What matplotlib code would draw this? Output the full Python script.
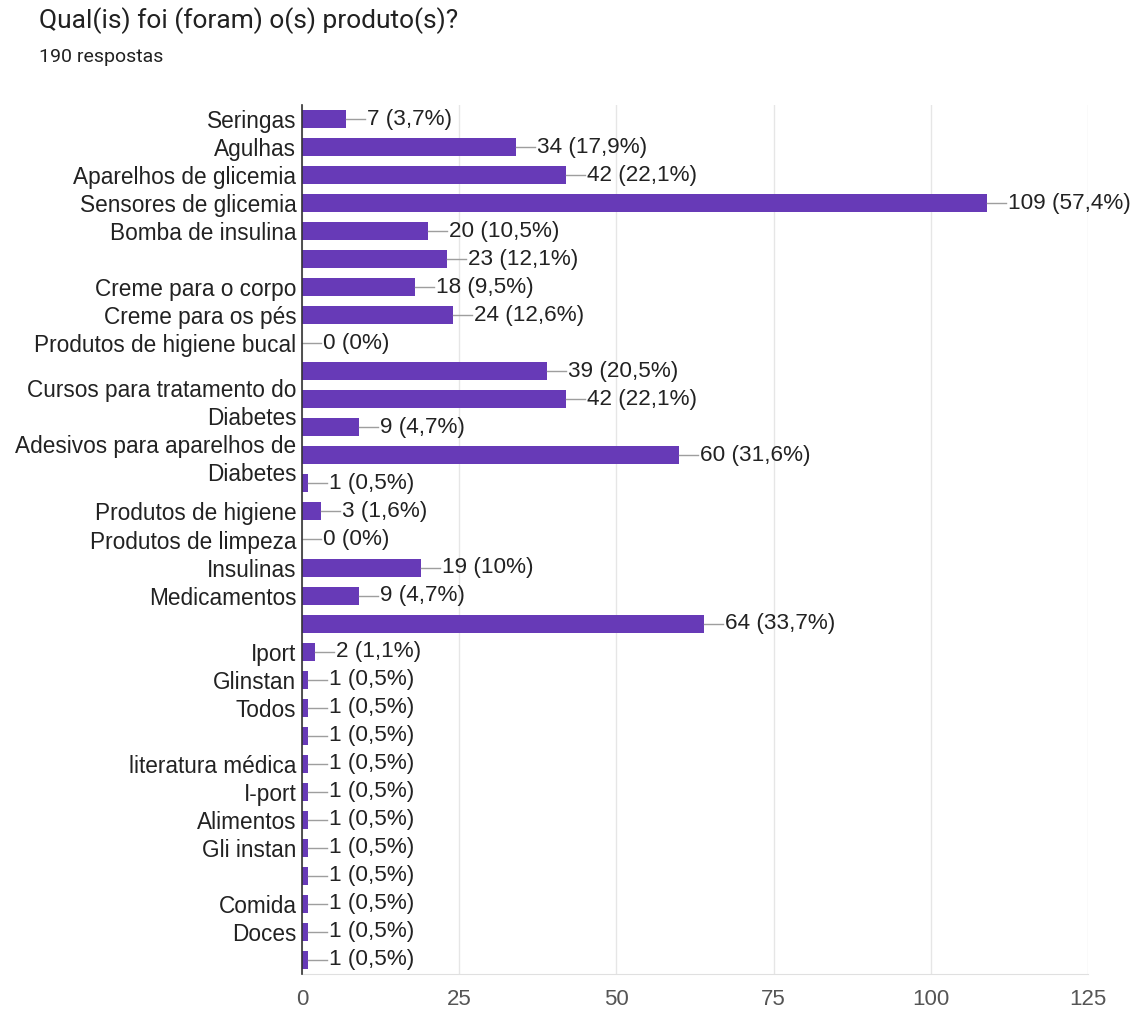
import matplotlib
matplotlib.use("Agg")
import matplotlib.pyplot as plt
from matplotlib.ticker import FixedLocator

plt.rcParams['font.family'] = ['Liberation Sans', 'DejaVu Sans']

title = "Qual(is) foi (foram) o(s) produto(s)?"
subtitle = "190 respostas"

categories = [
    "Seringas", "Agulhas", "Aparelhos de glicemia", "Sensores de glicemia",
    "Bomba de insulina", "", "Creme para o corpo", "Creme para os pés",
    "Produtos de higiene bucal", "", "Cursos para tratamento do\nDiabetes", "",
    "Adesivos para aparelhos de\nDiabetes", "", "Produtos de higiene",
    "Produtos de limpeza", "Insulinas", "Medicamentos", "", "Iport",
    "Glinstan", "Todos", "", "literatura médica", "I-port", "Alimentos",
    "Gli instan", "", "Comida", "Doces", "",
]
counts = [7, 34, 42, 109, 20, 23, 18, 24, 0, 39, 42, 9, 60, 1, 3, 0, 19, 9,
          64, 2, 1, 1, 1, 1, 1, 1, 1, 1, 1, 1, 1]
percent_labels = ["3,7%", "17,9%", "22,1%", "57,4%", "10,5%", "12,1%", "9,5%",
                  "12,6%", "0%", "20,5%", "22,1%", "4,7%", "31,6%", "0,5%",
                  "1,6%", "0%", "10%", "4,7%", "33,7%", "1,1%", "0,5%", "0,5%",
                  "0,5%", "0,5%", "0,5%", "0,5%", "0,5%", "0,5%", "0,5%",
                  "0,5%", "0,5%"]
x_ticks = [0, 25, 50, 75, 100, 125]

W, H = 1138, 1013
fig = plt.figure(figsize=(W / 100, H / 100), dpi=100)
ax = fig.add_axes([302 / W, 1 - 974 / H, (1088 - 302) / W, (974 - 105) / H])

bar_color = "#673ab7"
pos = list(range(len(counts)))
ax.barh(pos, counts, height=0.64, color=bar_color, zorder=3)

ax.set_xlim(0, 125)
ax.set_ylim(len(counts) - 0.5, -0.5)

# value annotations with short leader lines
px_per_unit = (1088 - 302) / 125
lead = 19 / px_per_unit
gap = 2 / px_per_unit
for y, c, p in zip(pos, counts, percent_labels):
    ax.plot([c, c + lead], [y, y], color="#9e9e9e", lw=1.0, zorder=4,
            clip_on=False)
    ax.text(c + lead + gap, y, f"{c} ({p})", va="center", ha="left",
            fontsize=16.2, color="#222222", zorder=5, clip_on=False)

ax.set_yticks(pos)
ax.set_yticklabels(categories, fontsize=16.3, color="#222222", linespacing=1.3)
ax.tick_params(axis="y", length=0, pad=4)
ax.xaxis.set_major_locator(FixedLocator(x_ticks))
ax.set_xticklabels([str(t) for t in x_ticks], fontsize=16, color="#555555")
ax.tick_params(axis="x", length=0, pad=11)

ax.grid(axis="x", color="#e6e6e6", lw=1.0, zorder=0)
for s in ["top", "right"]:
    ax.spines[s].set_visible(False)
ax.spines["bottom"].set_color("#e0e0e0")
ax.spines["left"].set_color("#333333")
ax.spines["left"].set_linewidth(1.2)
ax.spines["left"].set_zorder(6)

fig.text(39 / W, 1 - 21 / H, title, fontsize=19, color="#212121",
         va="center", ha="left", family=["Roboto", "DejaVu Sans"])
fig.text(39 / W, 1 - 57 / H, subtitle, fontsize=14, color="#212121",
         va="center", ha="left", family=["Roboto", "DejaVu Sans"])

fig.savefig("out.png", dpi=100, facecolor="white")
